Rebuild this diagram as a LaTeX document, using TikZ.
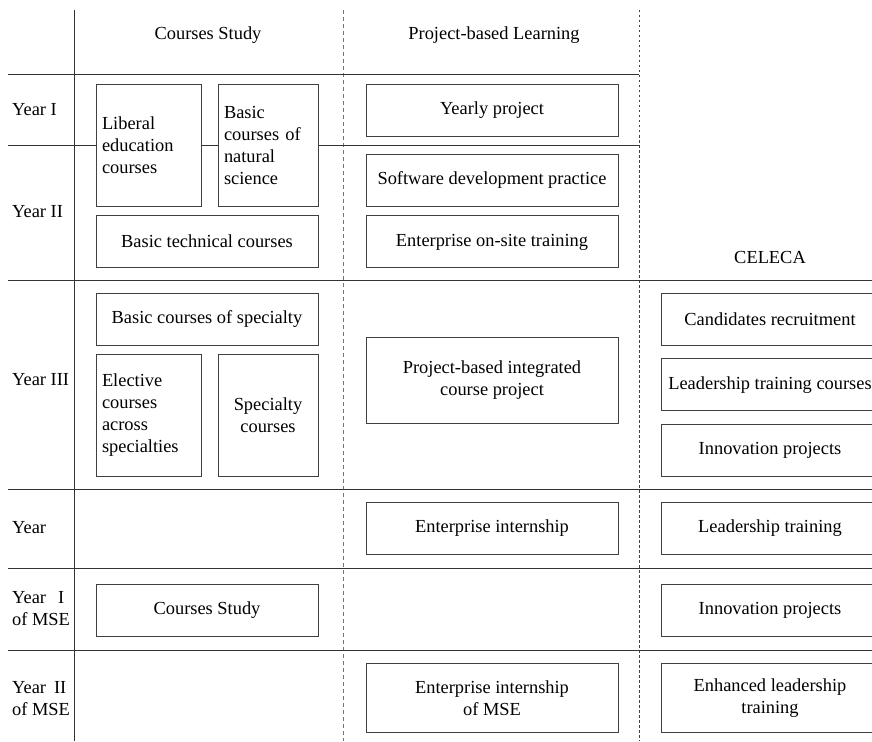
\documentclass[tikz,border=0pt]{standalone}
\usepackage{fontspec}
\setmainfont{Liberation Serif}
\newfontfamily\timesfont{Liberation Serif}
\usetikzlibrary{positioning}

\begin{document}
\begin{tikzpicture}[
    x=1pt, y=-1pt,
    node distance=9pt,
    txt/.style={font=\timesfont\fontsize{18.4}{22}\selectfont},
    grid/.style={line width=1pt, black!80},
    sep/.style={line width=0.9pt, black!55, dash pattern=on 4pt off 3pt},
    box/.style={txt, draw=black!75, line width=0.9pt, fill=white, minimum height=52pt, align=center, inner sep=2pt},
    wide/.style={box, minimum width=222pt},
    proj/.style={box, minimum width=252pt},
    lead/.style={box, minimum width=218pt},
    tall/.style={box, minimum height=122pt, inner xsep=6pt},
    year/.style={txt, anchor=west, align=left, inner sep=4pt}
]
\useasboundingbox (0,0) rectangle (872,741);

% Grid
\draw[grid] (74,10) -- (74,741);
\draw[sep] (343,10) -- (343,741);
\draw[sep, black!75, dash pattern=on 2.5pt off 2.5pt] (639,10) -- (639,741);
\draw[grid] (8,75) -- (639,75);
\draw[grid] (8,145) -- (639,145);
\foreach \yy in {280,489,568,650}
    \draw[grid] (8,\yy) -- (880,\yy);

% Headers
\node[txt] (hcourses) at (208,35) {Courses Study};
\node[txt] (hproject) at (494,35) {Project-based Learning};
\node[txt] (hceleca) at (770,257) {CELECA};

% Years
\node[year] (y1) at (8,110) {Year I};
\node[year] (y2) at (8,212) {Year II};
\node[year] (y3) at (8,380) {Year III};
\node[year] (y4) at (8,528) {Year};
\node[year] (m1) at (8,609) {Year\hspace{12pt}I\\of MSE};
\node[year] (m2) at (8,699) {Year\hspace{8pt}II\\of MSE};

% Courses study
\node[tall, minimum width=105pt, text width=93pt, align=left] (liberal) at (148.5,145) {Liberal\\education\\courses};
\node[tall, minimum width=100pt, text width=88pt, align=left] (natural) at (268,145) {Basic\\courses of\\natural\\science};
\node[wide] (technical) at (207,241) {Basic technical courses};
\node[wide] (specialty) at (207,319) {Basic courses of specialty};
\node[tall, minimum width=105pt, text width=93pt, align=left] (elective) at (148.5,415) {Elective\\courses\\across\\specialties};
\node[tall, minimum width=100pt] (spcourses) at (268,415) {Specialty\\courses};
\node[wide] (msecourses) at (207,610) {Courses Study};

% Project-based learning
\node[proj] (yearly) at (492,110) {Yearly project};
\node[proj] (software) at (492,180) {Software development practice};
\node[proj, below=of software] (onsite) {Enterprise on-site training};
\node[proj, minimum height=86pt] (integrated) at (492,380) {Project-based integrated\\course project};
\node[proj] (internship) at (492,528) {Enterprise internship};
\node[proj, minimum height=69pt] (mseintern) at (492,698) {Enterprise internship\\of MSE};

% CELECA
\node[lead] (recruit) at (770,319) {Candidates recruitment};
\node[lead, below=13pt of recruit] (ltcourses) {Leadership training courses};
\node[lead, below=13pt of ltcourses] (innov) {Innovation projects};
\node[lead] (ltraining) at (770,528) {Leadership training};
\node[lead] (innovmse) at (770,610) {Innovation projects};
\node[lead, minimum height=69pt] (enhanced) at (770,698) {Enhanced leadership\\training};

\end{tikzpicture}
\end{document}
